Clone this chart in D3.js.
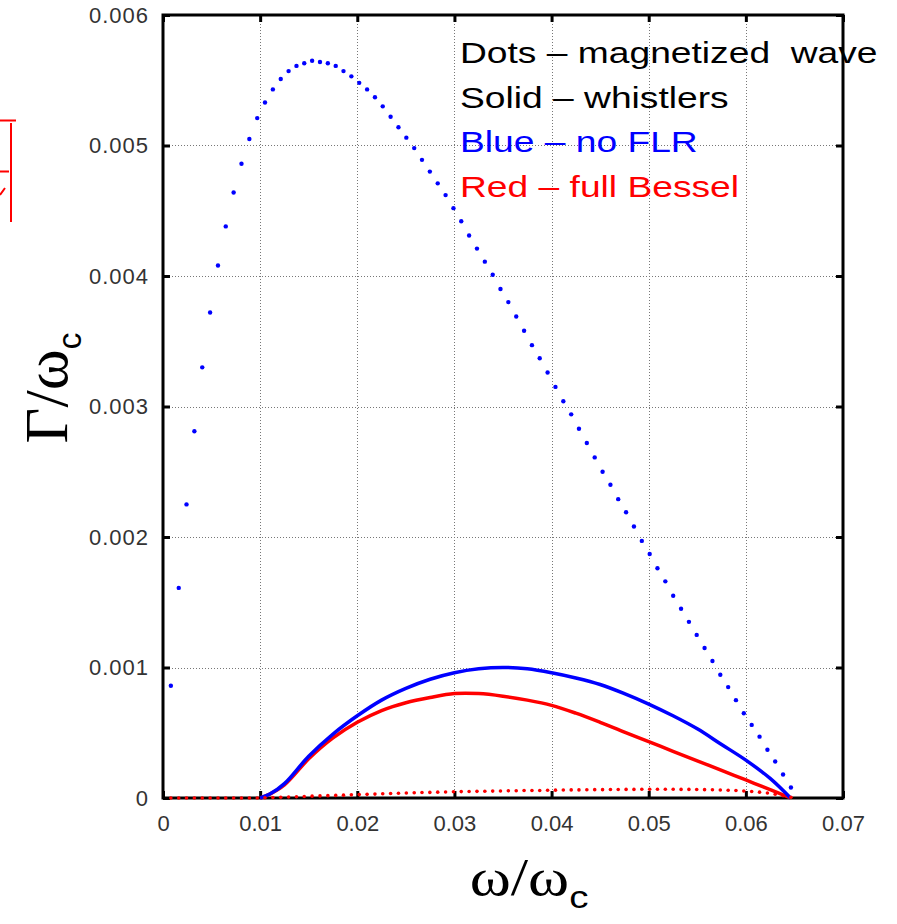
<!DOCTYPE html>
<html>
<head>
<meta charset="utf-8">
<script src="https://cdn.jsdelivr.net/npm/d3@7"></script>
<style>
  body { margin: 0; background: #fff; }
  svg { display: block; }
</style>
</head>
<body>
<div id="chart"></div>
<script>
// omega/omega_c of the dotted (magnetized wave) points
const omegaDots = [
  0.00081, 0.00162, 0.00242, 0.00323, 0.00404, 0.00485, 0.00566, 0.00646, 0.00727, 0.00808,
  0.00889, 0.00970, 0.01050, 0.01131, 0.01212, 0.01293, 0.01374, 0.01454, 0.01535, 0.01616,
  0.01697, 0.01778, 0.01858, 0.01939, 0.02020, 0.02101, 0.02182, 0.02262, 0.02343, 0.02424,
  0.02505, 0.02586, 0.02666, 0.02747, 0.02828, 0.02909, 0.02990, 0.03070, 0.03151, 0.03232,
  0.03313, 0.03394, 0.03474, 0.03555, 0.03636, 0.03717, 0.03798, 0.03878, 0.03959, 0.04040,
  0.04121, 0.04202, 0.04282, 0.04363, 0.04444, 0.04525, 0.04606, 0.04686, 0.04767, 0.04848,
  0.04929, 0.05010, 0.05090, 0.05171, 0.05252, 0.05333, 0.05414, 0.05494, 0.05575, 0.05656,
  0.05737, 0.05818, 0.05898, 0.05979, 0.06060, 0.06141, 0.06222, 0.06302, 0.06383, 0.06464
];
// blue dots: magnetized wave, no FLR
const gammaDotsBlue = [
  0.00086, 0.00161, 0.00225, 0.00281, 0.00330, 0.00372, 0.00408, 0.00438, 0.00464, 0.00486,
  0.00505, 0.00521, 0.00533, 0.00543, 0.00551, 0.00557, 0.00561, 0.00563, 0.00565, 0.00564,
  0.00563, 0.00561, 0.00557, 0.00553, 0.00548, 0.00543, 0.00537, 0.00530, 0.00522, 0.00514,
  0.00506, 0.00498, 0.00489, 0.00480, 0.00471, 0.00462, 0.00452, 0.00442, 0.00431, 0.00421,
  0.00411, 0.00401, 0.00390, 0.00380, 0.00369, 0.00358, 0.00347, 0.00337, 0.00326, 0.00315,
  0.00304, 0.00294, 0.00283, 0.00272, 0.00261, 0.00250, 0.00240, 0.00229, 0.00219, 0.00208,
  0.00197, 0.00187, 0.00176, 0.00166, 0.00155, 0.00145, 0.00135, 0.00125, 0.00115, 0.00105,
  0.000945, 0.00085, 0.00075, 0.00065, 0.00056, 0.00047, 0.00037, 0.00028, 0.00018, 0.00008
];
// red dots: magnetized wave, full Bessel
const gammaDotsRed = [
  0, 0, 0, 0, 0, 0, 0, 0, 0, 0,
  0, 0, 0.000002, 0.000004, 0.000006, 0.000008, 0.000010, 0.000012, 0.000014, 0.000016,
  0.000018, 0.000020, 0.000022, 0.000024, 0.000026, 0.000028, 0.000030, 0.000032, 0.000034, 0.000036,
  0.000038, 0.000040, 0.000042, 0.000043, 0.000045, 0.000046, 0.000048, 0.000049, 0.000050, 0.000051,
  0.000052, 0.000053, 0.000054, 0.000055, 0.000056, 0.000057, 0.000058, 0.000058, 0.000059, 0.000060,
  0.000061, 0.000062, 0.000062, 0.000063, 0.000064, 0.000064, 0.000065, 0.000065, 0.000066, 0.000066,
  0.000067, 0.000067, 0.000067, 0.000067, 0.000067, 0.000066, 0.000066, 0.000065, 0.000064, 0.000063,
  0.000061, 0.000059, 0.000057, 0.000054, 0.000050, 0.000045, 0.000038, 0.000029, 0.000018, 0.000005
];

// solid curves (whistlers)
const omegaSolid = [
  0.0100, 0.0110, 0.0125, 0.0150, 0.0175, 0.0200, 0.0225, 0.0250, 0.0275, 0.0300, 0.0325, 0.0350,
  0.0375, 0.0400, 0.0425, 0.0450, 0.0475, 0.0500, 0.0525, 0.0550, 0.0575, 0.0600, 0.0625, 0.0646
];
const gammaSolidBlue = [
  0, 0.00003, 0.00011, 0.00032, 0.00049, 0.00063, 0.00075, 0.00084, 0.00091, 0.00096, 0.00099, 0.00100,
  0.00099, 0.00096, 0.00092, 0.00087, 0.00080, 0.00072, 0.00063, 0.00053, 0.00041, 0.00029, 0.00015, 0
];
const gammaSolidRed = [
  0, 0.00003, 0.00010, 0.00030, 0.00046, 0.00058, 0.00067, 0.00073, 0.00077, 0.00080, 0.00080, 0.00078,
  0.00075, 0.00071, 0.00065, 0.00058, 0.000505, 0.000432, 0.000358, 0.000285, 0.000211, 0.000138, 0.000064, 0
];

const xTicks = [0, 0.01, 0.02, 0.03, 0.04, 0.05, 0.06, 0.07];
const xTickLabels = ['0', '0.01', '0.02', '0.03', '0.04', '0.05', '0.06', '0.07'];
const yTicks = [0, 0.001, 0.002, 0.003, 0.004, 0.005, 0.006];
const yTickLabels = ['0', '0.001', '0.002', '0.003', '0.004', '0.005', '0.006'];

const legendLines = ['Dots \u2013 magnetized  wave', 'Solid \u2013 whistlers', 'Blue \u2013 no FLR', 'Red \u2013 full Bessel'];
const legendColors = ['#000', '#000', '#0000ff', '#ff0000'];

const W = 897, H = 924;
const margin = { top: 15, right: 54, bottom: 126, left: 163 };
const width = W - margin.left - margin.right;
const height = H - margin.top - margin.bottom;

const svg = d3.select('#chart').append('svg')
  .attr('width', W)
  .attr('height', H);

// cropped red box fragment on the left edge
svg.append('path')
  .attr('d', 'M0,120.5H16 M11,123V222 M0,171.5H9 M0,195L5,188')
  .attr('fill', 'none')
  .attr('stroke', '#ff0000')
  .attr('stroke-width', 2);

const g = svg.append('g')
  .attr('transform', `translate(${margin.left},${margin.top})`);

const x = d3.scaleLinear().domain([0, 0.07]).range([0, width]);
const y = d3.scaleLinear().domain([0, 0.006]).range([height, 0]);

// dotted grid
g.append('g')
  .selectAll('line')
  .data(xTicks.slice(1, -1))
  .join('line')
    .attr('x1', d => Math.round(x(d)) + 0.5)
    .attr('x2', d => Math.round(x(d)) + 0.5)
    .attr('y1', 0)
    .attr('y2', height)
    .attr('stroke', '#777')
    .attr('stroke-dasharray', '1,2');
g.append('g')
  .selectAll('line')
  .data(yTicks.slice(1, -1))
  .join('line')
    .attr('y1', d => Math.round(y(d)) + 0.5)
    .attr('y2', d => Math.round(y(d)) + 0.5)
    .attr('x1', 0)
    .attr('x2', width)
    .attr('stroke', '#777')
    .attr('stroke-dasharray', '1,2');

// axes with ticks inward, mirrored on top and right
const tickStyle = sel => {
  sel.select('.domain').remove();
  sel.selectAll('.tick line').attr('stroke', '#000').attr('stroke-width', 3);
  sel.selectAll('.tick text')
    .attr('fill', '#333')
    .style('font-family', '"Liberation Sans", Arial, sans-serif')
    .style('font-size', '22px');
};

g.append('g')
  .attr('transform', `translate(0,${height})`)
  .call(d3.axisBottom(x).tickValues(xTicks).tickFormat((d, i) => xTickLabels[i]).tickSizeInner(-7).tickPadding(17))
  .call(tickStyle);
g.append('g')
  .call(d3.axisTop(x).tickValues(xTicks).tickFormat('').tickSizeInner(-7))
  .call(tickStyle);
g.append('g')
  .call(d3.axisLeft(y).tickValues(yTicks).tickFormat((d, i) => yTickLabels[i]).tickSizeInner(-7).tickPadding(14))
  .call(tickStyle)
  .selectAll('.tick text')
    .style('letter-spacing', '1px');
g.append('g')
  .attr('transform', `translate(${width},0)`)
  .call(d3.axisRight(y).tickValues(yTicks).tickFormat('').tickSizeInner(-7))
  .call(tickStyle);

// frame
g.append('rect')
  .attr('x', 0)
  .attr('y', 0)
  .attr('width', width)
  .attr('height', height)
  .attr('fill', 'none')
  .attr('stroke', '#000')
  .attr('stroke-width', 3);

// solid curves
const line = d3.line()
  .x(d => x(d[0]))
  .y(d => y(d[1]))
  .curve(d3.curveCatmullRom.alpha(0.5));

g.append('path')
  .datum(omegaSolid.map((w, i) => [w, gammaSolidRed[i]]))
  .attr('fill', 'none')
  .attr('stroke', '#ff0000')
  .attr('stroke-width', 3.5)
  .attr('d', line);
g.append('path')
  .datum(omegaSolid.map((w, i) => [w, gammaSolidBlue[i]]))
  .attr('fill', 'none')
  .attr('stroke', '#0000ff')
  .attr('stroke-width', 3.5)
  .attr('d', line);

// dotted series
g.append('g')
  .selectAll('circle')
  .data(omegaDots.map((w, i) => [w, gammaDotsRed[i]]))
  .join('circle')
    .attr('cx', d => x(d[0]))
    .attr('cy', d => y(d[1]))
    .attr('r', 1.8)
    .attr('fill', '#ff0000');
g.append('g')
  .selectAll('circle')
  .data(omegaDots.map((w, i) => [w, gammaDotsBlue[i]]))
  .join('circle')
    .attr('cx', d => x(d[0]))
    .attr('cy', d => y(d[1]))
    .attr('r', 2.2)
    .attr('fill', '#0000ff');

// legend text (the original is stretched horizontally)
g.append('g')
  .selectAll('text')
  .data(legendLines)
  .join('text')
    .attr('transform', (d, i) => `translate(297,${48 + i * 44.5}) scale(1.24,1)`)
    .attr('fill', (d, i) => legendColors[i])
    .style('font-family', '"Liberation Sans", Arial, sans-serif')
    .style('font-size', '30px')
    .style('white-space', 'pre')
    .text(d => d);

// axis titles
const yTitle = svg.append('text')
  .attr('transform', 'translate(67,388) rotate(-90)')
  .attr('text-anchor', 'middle')
  .style('font-family', '"Liberation Serif", "Times New Roman", serif')
  .style('font-size', '62px');
yTitle.append('tspan').text('\u0393/\u03c9');
yTitle.append('tspan').attr('dy', 14).style('font-size', '34px').style('font-family', '"Liberation Sans", Arial, sans-serif').text('c');

const xTitle = svg.append('text')
  .attr('transform', 'translate(529,895) scale(1.2,1)')
  .attr('text-anchor', 'middle')
  .style('font-family', '"Liberation Serif", "Times New Roman", serif')
  .style('font-size', '52px');
xTitle.append('tspan').text('\u03c9/\u03c9');
xTitle.append('tspan').attr('dy', 13).style('font-size', '32px').style('font-family', '"Liberation Sans", Arial, sans-serif').text('c');
</script>
</body>
</html>
